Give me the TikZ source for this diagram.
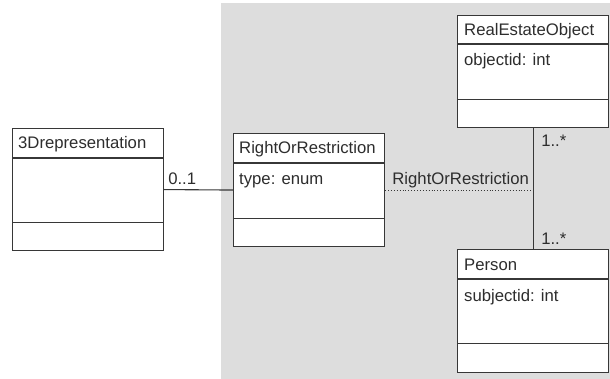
\documentclass[tikz,border=0pt]{standalone}
\usepackage{fontspec}
\setmainfont{Liberation Sans}
\usepackage{tikz}
\usetikzlibrary{positioning,calc}
\definecolor{pkggray}{RGB}{221,221,221}
\definecolor{umlline}{RGB}{55,55,55}
\definecolor{umltext}{RGB}{45,45,45}
\tikzset{
  classbox/.style={rectangle, draw=umlline, fill=white, line width=1.1pt,
                   minimum width=151pt, inner sep=0pt, anchor=north west},
  divider/.style={umlline, line width=1.1pt},
  classtext/.style={anchor=base west, inner sep=0pt, text=umltext,
                    font=\fontsize{16.7}{20}\selectfont},
  assoc/.style={umlline, line width=1.1pt},
  multlabel/.style={anchor=base west, inner sep=0pt, text=umltext,
                    font=\fontsize{16.7}{20}\selectfont},
}
\begin{document}
\begin{tikzpicture}[x=1pt, y=-1pt]
  \useasboundingbox (0,0) rectangle (610,379);
  % Package background
  \fill[pkggray] (221,3) rectangle (610,379);
  % 3Drepresentation
  \node[classbox, minimum height=122pt] (repr) at (12,128) {};
  \draw[divider] ($(repr.north west)+(0,30)$) -- ($(repr.north east)+(0,30)$);
  \draw[divider] ($(repr.south west)+(0,-29)$) -- ($(repr.south east)+(0,-29)$);
  \node[classtext] (repr-name) at ($(repr.north west)+(6,21)$) {3Drepresentation};
  % RightOrRestriction
  \node[classbox, minimum height=113pt] (ror) at (233,133) {};
  \draw[divider] ($(ror.north west)+(0,30)$) -- ($(ror.north east)+(0,30)$);
  \draw[divider] ($(ror.south west)+(0,-29)$) -- ($(ror.south east)+(0,-29)$);
  \node[classtext] (ror-name) at ($(ror.north west)+(6,21)$) {RightOrRestriction};
  \node[classtext] (ror-attr) at ($(ror.north west)+(6,52)$) {type: enum};
  % RealEstateObject
  \node[classbox, minimum height=112pt] (reo) at (457,15) {};
  \draw[divider] ($(reo.north west)+(0,29)$) -- ($(reo.north east)+(0,29)$);
  \draw[divider] ($(reo.south west)+(0,-29)$) -- ($(reo.south east)+(0,-29)$);
  \node[classtext] (reo-name) at ($(reo.north west)+(7,21)$) {RealEstateObject};
  \node[classtext] (reo-attr) at ($(reo.north west)+(7,51)$) {objectid: int};
  % Person
  \node[classbox, minimum height=123pt] (person) at (457,249) {};
  \draw[divider] ($(person.north west)+(0,30)$) -- ($(person.north east)+(0,30)$);
  \draw[divider] ($(person.south west)+(0,-30)$) -- ($(person.south east)+(0,-30)$);
  \node[classtext] (person-name) at ($(person.north west)+(7,21)$) {Person};
  \node[classtext] (person-attr) at ($(person.north west)+(7,52)$) {subjectid: int};
  % Associations
  \draw[assoc] (repr.east) -- (ror.west);
  \node[multlabel] (repr-mult) at ($(repr.east)+(4,-5)$) {0..1};
  \draw[assoc] (reo.south) -- (person.north);
  \coordinate (assoc-mid) at (reo.south |- ror.east);
  \draw[assoc, line width=0.9pt, dotted] (ror.east) -- (assoc-mid);
  \node[multlabel, anchor=base east] (assoc-name) at ($(assoc-mid)+(-4,-6)$) {RightOrRestriction};
  \node[multlabel] (reo-mult) at ($(reo.south)+(8,18)$) {1..*};
  \node[multlabel] (person-mult) at ($(person.north)+(8,-4)$) {1..*};
\end{tikzpicture}
\end{document}
